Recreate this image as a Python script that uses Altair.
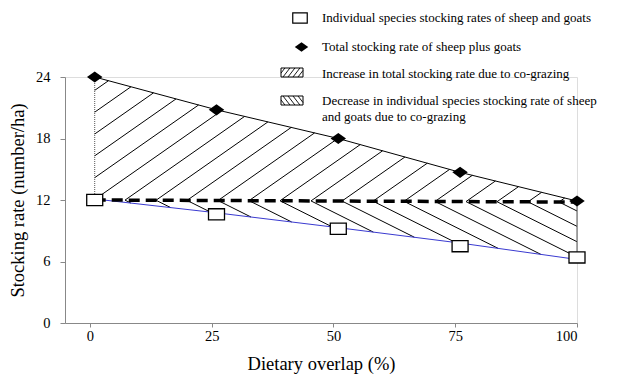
import numpy as np
import pandas as pd
import altair as alt

# ---------------- data ----------------
overlap = [1, 26, 51, 76, 100]                  # dietary overlap (%)
total_rate = [24.0, 20.8, 18.0, 14.7, 11.9]     # total stocking rate of sheep plus goats
individual_rate = [12.0, 10.6, 9.2, 7.5, 6.4]   # individual species stocking rates
fit_rate = [12.1, 10.75, 9.3, 7.8, 6.2]         # blue line through individual rates
ref_x = [1, 100]
ref_rate = [12.0, 11.8]                         # dashed line (no co-grazing)
x_ticks = [0, 25, 50, 75, 100]
y_ticks = [0, 6, 12, 18, 24]
legend_labels = [
    "Individual species stocking rates of sheep and goats",
    "Total stocking rate of sheep plus goats",
    "Increase in total stocking rate due to co-grazing",
    "Decrease in individual species stocking rate of sheep",
    "and goats due to co-grazing",
]

# ---------------- layout ----------------
FONT = "Liberation Serif"
W, H = 512, 246
XMIN, XMAX = -5.1, 100
YMIN, YMAX = 0, 24
PAD_L, PAD_T = 57, 69
OX, OY = 8 + PAD_L, 8 + PAD_T          # page position of plot origin
SX = W / (XMAX - XMIN)
SY = H / (YMAX - YMIN)


def page_to_data(px, py):
    return XMIN + (px - OX) / SX, YMAX - (py - OY) / SY


def top_f(x):
    return np.interp(x, overlap, total_rate)


def fit_f(x):
    return np.interp(x, overlap, fit_rate)


def ref_f(x):
    return ref_rate[0] + (ref_rate[1] - ref_rate[0]) * (np.asarray(x) - ref_x[0]) / (ref_x[1] - ref_x[0])


grid = np.linspace(overlap[0], overlap[-1], 40001)


def clip(fn, lower, upper):
    yl = fn(grid)
    m = (yl >= lower(grid) - 1e-6) & (yl <= upper(grid) + 1e-6)
    if m.sum() < 2:
        return None
    xs = grid[m]
    a, b = xs.min(), xs.max()
    return dict(x=a, y=float(fn(a)), x2=b, y2=float(fn(b)))


# hatch pattern (style): chevron spacing in px, slopes in screen px
SPACING, FIRST = 31.0, 60.0
up_s = 0.7 * SX / SY
dn_s = 0.5 * SX / SY
up_rows, dn_rows = [], []
for k in range(-9, 18):
    c = XMIN + (FIRST + SPACING * k) / SX
    yc = float(ref_f(c))
    s = clip(lambda x, c=c, yc=yc: yc + up_s * (np.asarray(x) - c), ref_f, top_f)
    if s:
        up_rows.append(s)
    s = clip(lambda x, c=c, yc=yc: yc - dn_s * (np.asarray(x) - c), fit_f, ref_f)
    if s:
        dn_rows.append(s)
hatch_df = pd.DataFrame(up_rows + dn_rows)

edge_df_left = pd.DataFrame({"x": [overlap[0]], "y": [ref_rate[0]], "x2": [overlap[0]], "y2": [total_rate[0]]})
edge_df_right = pd.DataFrame({"x": [overlap[-1]], "y": [individual_rate[-1]], "x2": [overlap[-1]], "y2": [ref_rate[-1]]})

pts = pd.DataFrame({"x": overlap, "total": total_rate, "ind": individual_rate, "fit": fit_rate})
ref_df = pd.DataFrame({"x": ref_x, "y": ref_rate})

xscale = alt.Scale(domain=[XMIN, XMAX], nice=False, zero=False)
yscale = alt.Scale(domain=[YMIN, YMAX], nice=False, zero=False)
xaxis = alt.Axis(values=x_ticks, title="Dietary overlap (%)", grid=False, tickSize=4,
                 labelPadding=2, titlePadding=12, labelFontSize=14.5, titleFontSize=18.5,
                 titleFontWeight="normal", labelFont=FONT, titleFont=FONT)
yaxis = alt.Axis(values=y_ticks, title="Stocking rate (number/ha)", grid=False, tickSize=5,
                 labelPadding=10, titlePadding=8, labelFontSize=14.5, titleFontSize=18.5,
                 titleFontWeight="normal", labelFont=FONT, titleFont=FONT)

X = alt.X("x:Q", scale=xscale, axis=xaxis)

hatch = alt.Chart(hatch_df).mark_rule(color="black", strokeWidth=1).encode(
    x=X, y=alt.Y("y:Q", scale=yscale, axis=yaxis), x2="x2:Q", y2="y2:Q")
left_edge = alt.Chart(edge_df_left).mark_rule(color="#555555", strokeWidth=1, strokeDash=[1, 1]).encode(
    x=X, y=alt.Y("y:Q", scale=yscale), x2="x2:Q", y2="y2:Q")
right_edge = alt.Chart(edge_df_right).mark_rule(color="#555555", strokeWidth=1).encode(
    x=X, y=alt.Y("y:Q", scale=yscale), x2="x2:Q", y2="y2:Q")

top_line = alt.Chart(pts).mark_line(color="black", strokeWidth=1).encode(
    x=X, y=alt.Y("total:Q", scale=yscale))
fit_line = alt.Chart(pts).mark_line(color="#3a3ad0", strokeWidth=1).encode(
    x=X, y=alt.Y("fit:Q", scale=yscale))
ref_line = alt.Chart(ref_df).mark_line(color="black", strokeWidth=3.5, strokeDash=[11, 6]).encode(
    x=X, y=alt.Y("y:Q", scale=yscale))

SQ = "M-1,-0.7L1,-0.7L1,0.7L-1,0.7Z"
DM = "M-1,0L0,-0.72L1,0L0,0.72Z"
squares = alt.Chart(pts).mark_point(shape=SQ, size=256, filled=False, fill="white", fillOpacity=1,
                                     stroke="black", strokeWidth=1.3, opacity=1).encode(
    x=X, y=alt.Y("ind:Q", scale=yscale))
diamonds = alt.Chart(pts).mark_point(shape=DM, size=240, filled=True, color="black", opacity=1).encode(
    x=X, y=alt.Y("total:Q", scale=yscale))

# ---------------- legend ----------------
one = pd.DataFrame({"a": [0]})
leg_sq = alt.Chart(one).mark_point(shape=SQ, size=210, filled=False, fill="white", fillOpacity=1,
                                   stroke="black", strokeWidth=1.2, opacity=1).encode(
    x=alt.value(300 - OX), y=alt.value(18 - OY))
leg_dm = alt.Chart(one).mark_point(shape=DM, size=180, filled=True, color="black", opacity=1).encode(
    x=alt.value(301.5 - OX), y=alt.value(47 - OY))

boxes = [(281, 68, 303, 77, 1), (281, 96, 303, 105, -1)]
box_rows, bh_rows = [], []
for (x0, y0, x1, y1, d) in boxes:
    a = page_to_data(x0, y0)
    b = page_to_data(x1, y1)
    box_rows.append(dict(x=a[0], y=a[1], x2=b[0], y2=b[1]))
    gx = np.linspace(x0, x1, 2001)
    s = 1.3
    for k in range(-3, 8):
        base = x0 + 2 + 5.0 * k
        if d == 1:
            gy = y1 - s * (gx - base)
        else:
            gy = y0 + s * (gx - base)
        m = (gy >= y0) & (gy <= y1)
        if m.sum() < 2:
            continue
        xs, ys = gx[m], gy[m]
        p = page_to_data(xs[0], ys[0])
        q = page_to_data(xs[-1], ys[-1])
        bh_rows.append(dict(x=p[0], y=p[1], x2=q[0], y2=q[1]))
box_df = pd.DataFrame(box_rows)
bh_df = pd.DataFrame(bh_rows)
leg_boxes = alt.Chart(box_df).mark_rect(fill="white", stroke="black", strokeWidth=1).encode(
    x=X, y=alt.Y("y:Q", scale=yscale), x2="x2:Q", y2="y2:Q")
leg_hatch = alt.Chart(bh_df).mark_rule(color="black", strokeWidth=0.9).encode(
    x=X, y=alt.Y("y:Q", scale=yscale), x2="x2:Q", y2="y2:Q")

text_y = [18, 47, 74, 101, 117]
texts = []
for lab, ty in zip(legend_labels, text_y):
    texts.append(alt.Chart(one).mark_text(align="left", baseline="middle", font=FONT, fontSize=13,
                                          color="black").encode(
        x=alt.value(322 - OX), y=alt.value(ty - OY), text=alt.value(lab)))

chart = alt.layer(hatch, left_edge, right_edge, fit_line, top_line, ref_line, squares, diamonds,
                  leg_boxes, leg_hatch, leg_sq, leg_dm, *texts).properties(
    width=W, height=H,
    autosize=alt.AutoSizeParams(type="none"),
    padding={"left": PAD_L, "top": PAD_T, "right": 619 - 16 - PAD_L - W, "bottom": 382 - 16 - PAD_T - H},
).configure_view(stroke=None).configure_axis(
    labelFont=FONT, titleFont=FONT, labelColor="black", titleColor="black",
    domainColor="black", tickColor="black", domainWidth=1.2, tickWidth=1.2,
    titleFontWeight="normal",
).configure(font=FONT, background="white")

chart.save("out.html", embed_options={"renderer": "svg", "actions": False})
